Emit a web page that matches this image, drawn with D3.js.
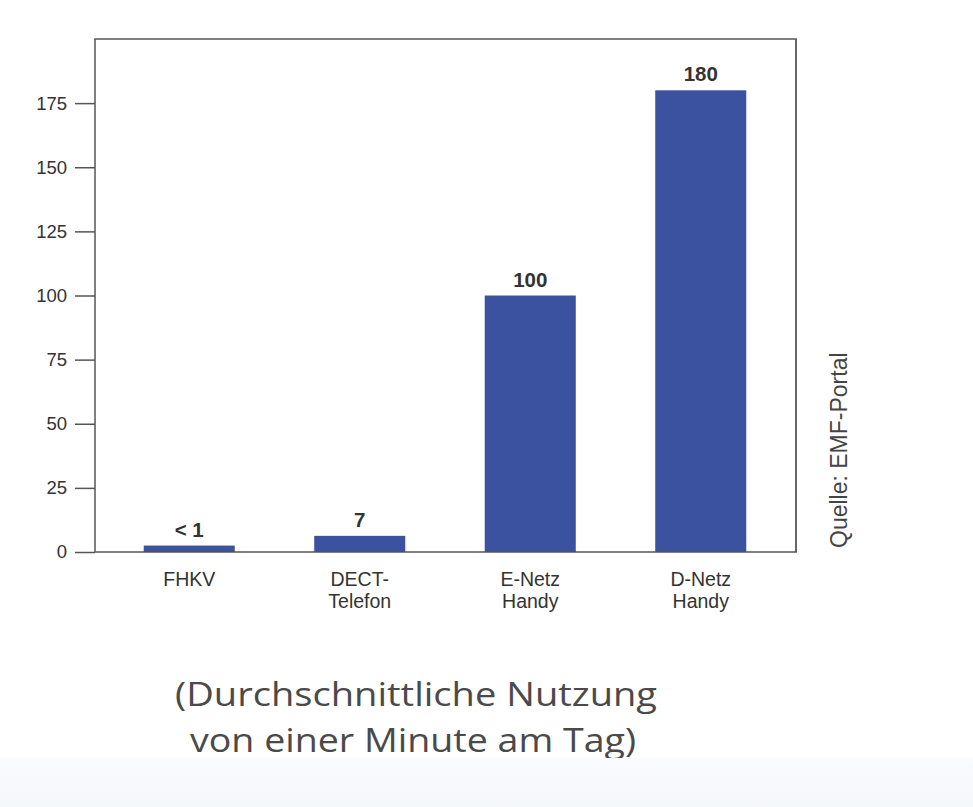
<!DOCTYPE html>
<html>
<head>
<meta charset="utf-8">
<script src="https://cdn.jsdelivr.net/npm/d3@7"></script>
<style>
  html, body { margin: 0; padding: 0; background: #ffffff; }
  svg { display: block; }
</style>
</head>
<body>
<svg id="chart" width="973" height="807"></svg>
<script>
// ---- data ----
const categories = ["FHKV", "DECT-\nTelefon", "E-Netz\nHandy", "D-Netz\nHandy"];
const values = [2.5, 6.3, 100, 180];
const valueLabels = ["< 1", "7", "100", "180"];
const yTicks = [0, 25, 50, 75, 100, 125, 150, 175];
const yDomain = [0, 200];
const sourceText = "Quelle: EMF-Portal";
const captionLines = ["(Durchschnittliche Nutzung", "von einer Minute am Tag)"];

// ---- layout ----
const svg = d3.select("#chart");
const W = 973, H = 807;
const frame = { left: 95, right: 796, top: 39, bottom: 552 };
const barColor = "#3b52a0";
const textColor = "#333333";
const lineColor = "#555555";
const chartFont = "'Liberation Sans', Arial, sans-serif";

svg.append("rect").attr("x", 0).attr("y", 0).attr("width", W).attr("height", H).attr("fill", "#ffffff");

const x = d3.scaleBand()
  .domain(categories)
  .range([104, 786])
  .paddingInner(0.466)
  .paddingOuter(0.233);

const y = d3.scaleLinear().domain(yDomain).range([frame.bottom, frame.top]);

// y axis
const yAxis = d3.axisLeft(y).tickValues(yTicks).tickSize(20).tickPadding(8).tickFormat(d3.format("d"));
const gy = svg.append("g").attr("transform", `translate(${frame.left},0)`).call(yAxis);
gy.select(".domain").remove();
gy.selectAll(".tick line").attr("stroke", lineColor).attr("stroke-width", 1.5);
gy.selectAll(".tick text")
  .attr("fill", textColor)
  .style("font-family", chartFont)
  .style("font-size", "18.5px");

// bars
svg.append("g").selectAll("rect")
  .data(values)
  .join("rect")
  .attr("x", (d, i) => x(categories[i]))
  .attr("y", d => y(d))
  .attr("width", x.bandwidth())
  .attr("height", d => y(0) - y(d))
  .attr("fill", barColor);

// value labels
svg.append("g").selectAll("text")
  .data(values)
  .join("text")
  .attr("x", (d, i) => x(categories[i]) + x.bandwidth() / 2)
  .attr("y", d => y(d) - 9)
  .attr("text-anchor", "middle")
  .attr("fill", textColor)
  .style("font-family", chartFont)
  .style("font-weight", "bold")
  .style("font-size", "20.5px")
  .text((d, i) => valueLabels[i]);

// frame
const fr = svg.append("g").attr("fill", "none");
fr.append("line").attr("x1", frame.left).attr("x2", frame.left).attr("y1", frame.top).attr("y2", frame.bottom)
  .attr("stroke", lineColor).attr("stroke-width", 1.5);
fr.append("line").attr("x1", frame.left - 0.75).attr("x2", frame.right + 1).attr("y1", frame.top).attr("y2", frame.top)
  .attr("stroke", lineColor).attr("stroke-width", 1.5);
fr.append("line").attr("x1", frame.right).attr("x2", frame.right).attr("y1", frame.top).attr("y2", frame.bottom)
  .attr("stroke", "#666666").attr("stroke-width", 2);
fr.append("line").attr("x1", frame.left).attr("x2", frame.right + 1).attr("y1", frame.bottom).attr("y2", frame.bottom)
  .attr("stroke", lineColor).attr("stroke-width", 1.5);

// category labels
const catG = svg.append("g");
categories.forEach((c, i) => {
  const t = catG.append("text")
    .attr("x", x(c) + x.bandwidth() / 2)
    .attr("y", 586)
    .attr("text-anchor", "middle")
    .attr("fill", textColor)
    .style("font-family", chartFont)
    .style("font-size", "19.5px");
  c.split("\n").forEach((line, j) => {
    t.append("tspan").attr("x", x(c) + x.bandwidth() / 2).attr("dy", j === 0 ? 0 : 22).text(line);
  });
});

// source (rotated)
svg.append("text")
  .attr("transform", "translate(847,548) rotate(-90)")
  .attr("text-anchor", "start")
  .attr("fill", "#444444")
  .style("font-family", chartFont)
  .style("font-size", "23px")
  .text(sourceText);

// caption with clip
const defs = svg.append("defs");
defs.append("clipPath").attr("id", "capclip")
  .append("rect").attr("x", 0).attr("y", 0).attr("width", W).attr("height", 758);
const grad = defs.append("linearGradient").attr("id", "bandgrad").attr("x1", 0).attr("y1", 0).attr("x2", 0).attr("y2", 1);
grad.append("stop").attr("offset", "0%").attr("stop-color", "#f9fbfd");
grad.append("stop").attr("offset", "100%").attr("stop-color", "#f5f8fb");
svg.append("rect").attr("x", 0).attr("y", 758).attr("width", W).attr("height", H - 758).attr("fill", "url(#bandgrad)");

const capG = svg.append("g").attr("clip-path", "url(#capclip)");
const capSpecs = [
  { text: captionLines[0], x0: 175, x1: 657, y: 706 },
  { text: captionLines[1], x0: 190, x1: 636, y: 752 }
];
capSpecs.forEach(s => {
  capG.append("text")
    .attr("x", s.x0)
    .attr("y", s.y)
    .attr("textLength", s.x1 - s.x0)
    .attr("lengthAdjust", "spacingAndGlyphs")
    .attr("fill", "#4a4a4a")
    .style("font-family", "'Open Sans', 'Noto Sans', sans-serif")
    .style("font-size", "32px")
    .text(s.text);
});
</script>
</body>
</html>
